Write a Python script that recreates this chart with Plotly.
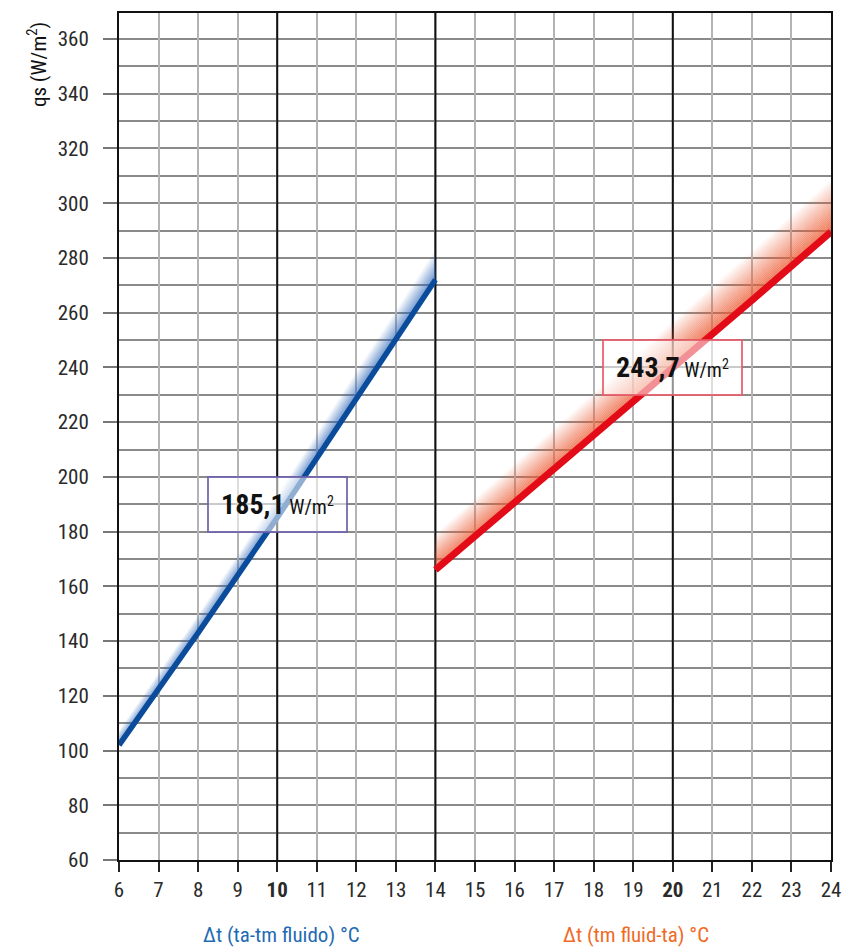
import plotly.graph_objects as go

# Specific heat output qs against temperature difference
# Cooling side (left panel): Δt = ta - tm fluido
dt_cool = [6, 8, 10, 12, 14]
qs_cool = [102.0, 143.0, 185.1, 229.0, 272.0]

# Heating side (right panel): Δt = tm fluid - ta
dt_heat = [14, 16, 18, 20, 22, 24]
qs_heat = [166.0, 190.5, 215.0, 240.0, 264.5, 289.5]

# Value boxes
box_cool_value = "185,1"
box_heat_value = "243,7"

# Axis ticks
x_ticks = list(range(6, 25))
x_bold = [10, 20]
y_ticks = list(range(60, 361, 20))
x_dividers = [10, 14, 20]

FONT = "Liberation Sans Narrow, Roboto Condensed, Arial Narrow, Roboto, sans-serif"
Y_MIN, Y_MAX = 60, 369.5

fig = go.Figure()

# Heavier vertical dividers, drawn above the grid and below the curves
for xv in x_dividers:
    fig.add_trace(go.Scatter(
        x=[xv, xv], y=[Y_MIN, Y_MAX], mode="lines",
        line=dict(color="#111111", width=2),
        hoverinfo="skip", showlegend=False,
    ))


def add_glow(xs, ys, rgb, frac, base, steps=26, a0=0.85, power=1.2):
    """Soft gradient band sitting above a line, fading out upward."""
    offs = [frac * y + base for y in ys]
    for i in range(steps):
        t0, t1 = i / steps, (i + 1) / steps
        lo = [y + o * t0 for y, o in zip(ys, offs)]
        hi = [y + o * t1 for y, o in zip(ys, offs)]
        alpha = a0 * (1 - (t0 + t1) / 2) ** power
        fig.add_trace(go.Scatter(
            x=list(xs) + list(xs)[::-1],
            y=lo + hi[::-1],
            fill="toself",
            fillcolor=f"rgba({rgb[0]},{rgb[1]},{rgb[2]},{alpha:.3f})",
            line=dict(width=0),
            mode="lines",
            hoverinfo="skip",
            showlegend=False,
        ))


add_glow(dt_cool, qs_cool, (40, 100, 185), 0.035, 2.0)
add_glow(dt_heat, qs_heat, (236, 92, 52), 0.05, 5.0, a0=0.9, power=1.0)

fig.add_trace(go.Scatter(
    x=dt_cool, y=qs_cool, mode="lines",
    line=dict(color="#0a4c9b", width=5.5),
    showlegend=False, hoverinfo="skip",
))
fig.add_trace(go.Scatter(
    x=dt_heat, y=qs_heat, mode="lines",
    line=dict(color="#e30b17", width=7),
    showlegend=False, hoverinfo="skip",
))

x_ticktext = [f"<b>{v}</b>" if v in x_bold else str(v) for v in x_ticks]

fig.update_xaxes(
    range=[6, 24],
    tickmode="array", tickvals=x_ticks, ticktext=x_ticktext,
    ticks="outside", ticklen=10, tickwidth=1.5, tickcolor="#222222",
    showgrid=True, gridcolor="#b4b4b4", gridwidth=1.6,
    showline=True, linecolor="#111111", linewidth=2, mirror=True,
    tickfont=dict(family=FONT, size=21, color="#2a2a2a"),
    zeroline=False,
)
fig.update_yaxes(
    range=[Y_MIN, Y_MAX],
    tickmode="array", tickvals=y_ticks,
    ticks="outside", ticklen=14, tickwidth=1.5, tickcolor="#777777",
    ticklabelstandoff=10,
    showgrid=False,
    minor=dict(dtick=10, tick0=60, showgrid=True, gridcolor="#8a8a8a", gridwidth=1.6),
    showline=True, linecolor="#111111", linewidth=2, mirror=True,
    tickfont=dict(family=FONT, size=21, color="#2a2a2a"),
    zeroline=False,
)

annotations = [
    dict(text="qs (W/m<sup>2</sup>)", textangle=-90, xref="paper", yref="paper",
         x=-0.116, y=0.939, xanchor="center", yanchor="middle", showarrow=False,
         font=dict(family=FONT, size=21, color="#111111")),
    dict(text="Δt (ta-tm fluido) °C", xref="x", yref="paper", x=10.1, y=-0.088,
         xanchor="center", yanchor="middle",
         showarrow=False, font=dict(family=FONT, size=21, color="#1f6bb3")),
    dict(text="Δt (tm fluid-ta) °C", xref="x", yref="paper", x=19.07, y=-0.088,
         xanchor="center", yanchor="middle",
         showarrow=False, font=dict(family=FONT, size=21, color="#f06a26")),
    dict(text=f"<b><span style='font-size:28px'>{box_cool_value}</span></b> W/m<sup>2</sup>",
         x=10, y=190, xref="x", yref="y", showarrow=False,
         width=133, height=49, borderpad=2, borderwidth=2,
         bordercolor="rgba(110,95,170,0.85)", bgcolor="rgba(255,255,255,0.55)",
         font=dict(family=FONT, size=20, color="#111111")),
    dict(text=f"<b><span style='font-size:28px'>{box_heat_value}</span></b> W/m<sup>2</sup>",
         x=20, y=240, xref="x", yref="y", showarrow=False,
         width=133, height=49, borderpad=2, borderwidth=2,
         bordercolor="rgba(230,90,105,0.85)", bgcolor="rgba(255,255,255,0.55)",
         font=dict(family=FONT, size=20, color="#111111")),
]

fig.update_layout(
    width=852, height=948,
    margin=dict(l=119, r=17, t=11, b=88),
    paper_bgcolor="white", plot_bgcolor="white",
    annotations=annotations,
    showlegend=False,
)

fig.write_html("out.html")
